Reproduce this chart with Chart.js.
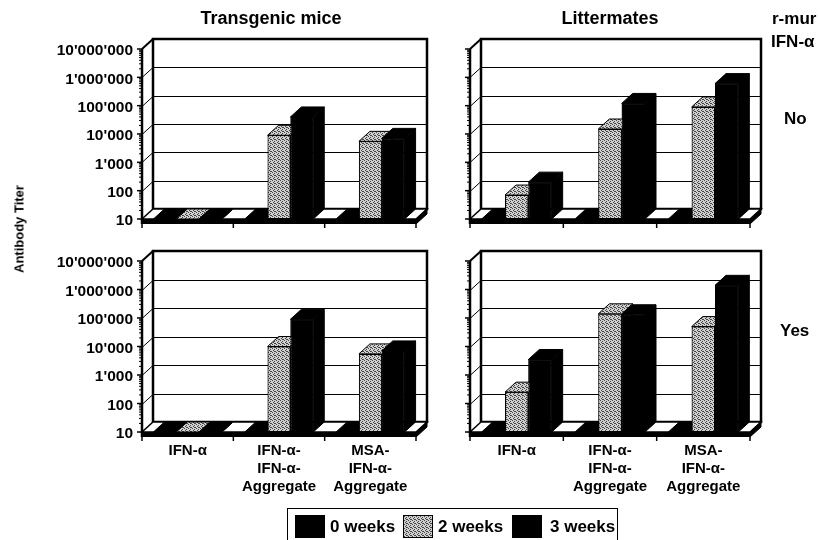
<!DOCTYPE html>
<html>
<head>
<meta charset="utf-8">
<script src="https://cdn.jsdelivr.net/npm/chart.js@4.4.1/dist/chart.umd.min.js"></script>
<style>
body { margin: 0; background: #fff; font-family: 'Liberation Sans', Arial, sans-serif; color: #000; }
#wrap { position: relative; width: 820px; height: 540px; overflow: hidden; background: #fff; }
canvas { position: absolute; left: 0; top: 0; }
.t { position: absolute; white-space: nowrap; line-height: 1; font-weight: bold; color: #000; }
.title { font-size: 18px; transform: translateX(-50%); top: 9px; }
.side { font-size: 17px; }
#ytitle { left: 19px; top: 229px; font-size: 13px; transform: translate(-50%, -50%) rotate(-90deg); }
#legend { position: absolute; left: 287px; top: 508px; width: 331px; height: 40px; border: 1.5px solid #000; box-sizing: border-box; }
#legend .sw { position: absolute; top: 6px; width: 30px; height: 23px; border: 1px solid #000; box-sizing: border-box; }
#legend .lb { position: absolute; top: 9px; font-size: 17px; line-height: 1; font-weight: bold; }
</style>
</head>
<body>
<div id="wrap">
  <canvas id="c1" width="820" height="540"></canvas>
  <canvas id="c2" width="820" height="540"></canvas>
  <canvas id="c3" width="820" height="540"></canvas>
  <canvas id="c4" width="820" height="540"></canvas>

  <div class="t title" style="left:271px">Transgenic mice</div>
  <div class="t title" style="left:610px">Littermates</div>
  <div class="t side" style="left:772px; top:10px">r-mur</div>
  <div class="t side" style="left:771px; top:33px">IFN-α</div>
  <div class="t side" style="left:784px; top:110px">No</div>
  <div class="t side" style="left:780px; top:322px">Yes</div>
  <div class="t" id="ytitle">Antibody Titer</div>

  <div id="legend">
    <div class="sw" style="left:7px; background:#000"></div>
    <div class="lb" style="left:42px">0 weeks</div>
    <div class="sw" id="graySw" style="left:115px"></div>
    <div class="lb" style="left:150px">2 weeks</div>
    <div class="sw" style="left:224px; background:#000"></div>
    <div class="lb" style="left:262px">3 weeks</div>
  </div>
</div>

<script>
const categories = [["IFN-α"], ["IFN-α-", "IFN-α-", "Aggregate"], ["MSA-", "IFN-α-", "Aggregate"]];
const seriesLabels = ["0 weeks", "2 weeks", "3 weeks"];
const tickValues = [10, 100, 1000, 10000, 100000, 1000000, 10000000];
const tickLabels = ["10", "100", "1'000", "10'000", "100'000", "1'000'000", "10'000'000"];

const weeks0 = [10, 10, 10];
const transgenicNo2w = [10, 9000, 5500];
const transgenicNo3w = [10, 40000, 7000];
const littermatesNo2w = [70, 15000, 90000];
const littermatesNo3w = [200, 120000, 600000];
const transgenicYes2w = [10, 10000, 5500];
const transgenicYes3w = [10, 90000, 7000];
const littermatesYes2w = [250, 140000, 50000];
const littermatesYes3w = [3500, 130000, 1400000];

Chart.defaults.font.family = "'Liberation Sans', Arial, sans-serif";
Chart.defaults.font.weight = "bold";
Chart.defaults.color = "#000";

const DX = 11, DY = 10, FLOOR = 5;

// stippled grey like the scanned fill
function stipple(bg, dot) {
	const c = document.createElement("canvas");
	c.width = 4;
	c.height = 4;
	const g = c.getContext("2d");
	g.fillStyle = bg;
	g.fillRect(0, 0, 4, 4);
	g.fillStyle = dot;
	[[0, 0], [2, 1], [1, 2], [3, 3], [2, 3]].forEach(([x, y]) => g.fillRect(x, y, 1, 1));
	return c;
}
const grayTile = stipple("#d0d0d0", "#444");
const darkTile = stipple("#808080", "#222");
const tmp = document.createElement("canvas").getContext("2d");
const grayFill = tmp.createPattern(grayTile, "repeat");
const grayDark = tmp.createPattern(darkTile, "repeat");
document.getElementById("graySw").style.background = "url(" + grayTile.toDataURL() + ")";

function poly(ctx, pts, fill, lw) {
	ctx.beginPath();
	ctx.moveTo(pts[0][0], pts[0][1]);
	pts.slice(1).forEach((p) => ctx.lineTo(p[0], p[1]));
	ctx.closePath();
	if (fill) {
		ctx.fillStyle = fill;
		ctx.fill();
	}
	if (lw) {
		ctx.lineWidth = lw;
		ctx.strokeStyle = "#000";
		ctx.stroke();
	}
}

function line(ctx, x1, y1, x2, y2, lw) {
	ctx.beginPath();
	ctx.lineWidth = lw;
	ctx.strokeStyle = "#000";
	ctx.moveTo(x1, y1);
	ctx.lineTo(x2, y2);
	ctx.stroke();
}

const box3d = {
	id: "box3d",
	beforeDatasetsDraw(chart) {
		const { ctx, chartArea: a } = chart;
		const ys = chart.scales.y;
		ctx.save();
		// back wall gridlines and left wall diagonals
		tickValues.slice(1, -1).forEach((v) => {
			const py = Math.round(ys.getPixelForValue(v)) + 0.5;
			line(ctx, a.left + DX, py - DY, a.right + DX, py - DY, 1);
			line(ctx, a.left, py, a.left + DX, py - DY, 1);
		});
		// back wall frame
		ctx.lineWidth = 2.5;
		ctx.strokeStyle = "#000";
		ctx.strokeRect(a.left + DX, a.top - DY, a.right - a.left, a.bottom - a.top);
		line(ctx, a.left, a.top, a.left + DX, a.top - DY, 2);
		// floor
		poly(ctx, [[a.left, a.bottom], [a.right, a.bottom], [a.right + DX, a.bottom - DY], [a.left + DX, a.bottom - DY]], "#fff", 1.5);
		ctx.fillStyle = "#000";
		ctx.fillRect(a.left, a.bottom, a.right - a.left, FLOOR);
		poly(ctx, [[a.right, a.bottom], [a.right + DX, a.bottom - DY], [a.right + DX, a.bottom - DY + FLOOR], [a.right, a.bottom + FLOOR]], "#000", 1);
		// front left edge with ticks
		line(ctx, a.left, a.top, a.left, a.bottom + FLOOR, 2.5);
		for (let d = 10; d < 1e7; d *= 10) {
			for (let m = 2; m < 10; m++) {
				const py = ys.getPixelForValue(d * m);
				line(ctx, a.left - 3, py, a.left, py, 1);
			}
		}
		tickValues.forEach((v) => {
			const py = ys.getPixelForValue(v);
			line(ctx, a.left - 5, py, a.left, py, 1.5);
		});
		// category ticks under the floor
		const step = (a.right - a.left) / categories.length;
		for (let k = 0; k <= categories.length; k++) {
			const px = a.left + k * step;
			line(ctx, px, a.bottom + FLOOR, px, a.bottom + FLOOR + 4, 1.5);
		}
		ctx.restore();
	},
	afterDatasetsDraw(chart) {
		const ctx = chart.ctx;
		ctx.save();
		for (let i = 0; i < categories.length; i++) {
			chart.data.datasets.forEach((ds, d) => {
				const el = chart.getDatasetMeta(d).data[i];
				const { x, y, base, width } = el.getProps(["x", "y", "base", "width"], true);
				const l = x - width / 2, r = x + width / 2;
				const gray = d === 1;
				poly(ctx, [[r, y], [r + DX, y - DY], [r + DX, base - DY], [r, base]], gray ? grayDark : "#000", 1);
				poly(ctx, [[l, y], [r, y], [r + DX, y - DY], [l + DX, y - DY]], gray ? grayFill : "#000", 1);
				el.draw(ctx);
			});
		}
		ctx.restore();
	},
};

function makePanel(id, area, w2, w3, showY, showX) {
	new Chart(document.getElementById(id), {
		type: "bar",
		data: {
			labels: categories,
			datasets: [
				{ label: seriesLabels[0], data: weeks0, backgroundColor: "#000" },
				{ label: seriesLabels[1], data: w2, backgroundColor: grayFill },
				{ label: seriesLabels[2], data: w3, backgroundColor: "#000" },
			],
		},
		options: {
			responsive: false,
			animation: false,
			events: [],
			datasets: {
				bar: { categoryPercentage: 0.75, barPercentage: 1, borderColor: "#000", borderWidth: 1, borderSkipped: false },
			},
			layout: {
				autoPadding: false,
				padding: { left: 0, top: area.top, right: 820 - area.right, bottom: 0 },
			},
			plugins: { legend: { display: false }, tooltip: { enabled: false }, title: { display: false } },
			scales: {
				x: {
					offset: true,
					grid: { display: false, drawTicks: false },
					border: { display: false },
					afterFit: (s) => { s.height = 540 - area.bottom; },
					ticks: { display: showX, padding: 10, maxRotation: 0, autoSkip: false, font: { size: 15, lineHeight: 1.2 } },
				},
				y: {
					type: "logarithmic",
					min: 10,
					max: 1e7,
					grid: { display: false, drawTicks: false },
					border: { display: false },
					afterFit: (s) => { s.width = area.left; },
					afterBuildTicks: (s) => { s.ticks = tickValues.map((v) => ({ value: v })); },
					ticks: { display: showY, padding: 9, labelOffset: 2, font: { size: 15.5 }, callback: (v, i) => tickLabels[i] },
				},
			},
		},
		plugins: [box3d],
	});
}

makePanel("c1", { left: 142, top: 49, right: 416, bottom: 219 }, transgenicNo2w, transgenicNo3w, true, false);
makePanel("c2", { left: 470, top: 49, right: 750, bottom: 219 }, littermatesNo2w, littermatesNo3w, false, false);
makePanel("c3", { left: 142, top: 261, right: 416, bottom: 432 }, transgenicYes2w, transgenicYes3w, true, true);
makePanel("c4", { left: 470, top: 261, right: 750, bottom: 432 }, littermatesYes2w, littermatesYes3w, false, true);
</script>
</body>
</html>
